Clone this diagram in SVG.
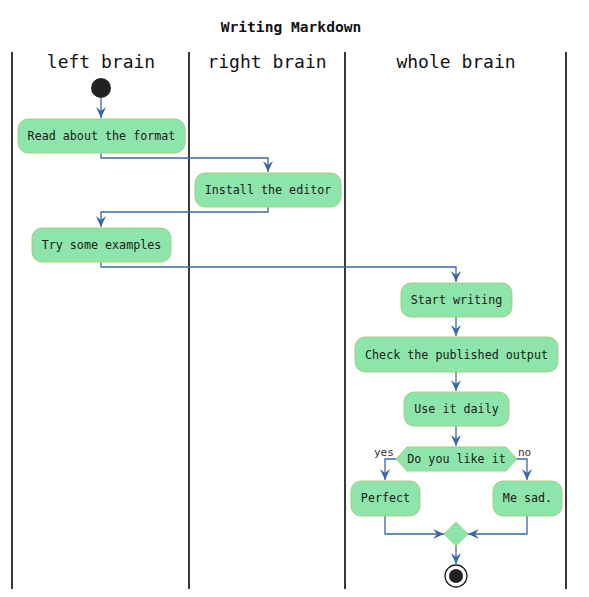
<svg xmlns="http://www.w3.org/2000/svg" width="589" height="597" viewBox="0 0 589 597">
<defs>
<style>
.lane{stroke:#383838;stroke-width:2;fill:none}
.act{fill:#8de5ab;stroke:#a6cf7e;stroke-width:1}
.t{font-family:"DejaVu Sans Mono","Liberation Mono",monospace;font-size:11.7px;fill:#1a1a1a;text-anchor:middle}
.h{font-family:"DejaVu Sans Mono","Liberation Mono",monospace;font-size:18px;fill:#111;text-anchor:middle}
.title{font-family:"DejaVu Sans Mono","Liberation Mono",monospace;font-size:14.6px;font-weight:bold;fill:#111;text-anchor:middle}
.lbl{font-family:"DejaVu Sans Mono","Liberation Mono",monospace;font-size:11px;fill:#333}
.c{stroke:#3a68a2;stroke-width:1.3;fill:none}
.ah{fill:#3a68a2;stroke:none}
</style>
<marker id="arr" viewBox="0 0 12 10" refX="11" refY="5" markerWidth="12" markerHeight="10" markerUnits="userSpaceOnUse" orient="auto">
<path class="ah" d="M0,0 L11,5 L0,10 L4,5 Z"/>
</marker>
</defs>
<rect width="589" height="597" fill="#ffffff"/>
<text class="title" x="291" y="32">Writing Markdown</text>
<g id="lanes">
<line class="lane" x1="12" y1="52" x2="12" y2="589"/>
<line class="lane" x1="189" y1="52" x2="189" y2="589"/>
<line class="lane" x1="345" y1="52" x2="345" y2="589"/>
<line class="lane" x1="566" y1="52" x2="566" y2="589"/>
<text class="h" x="101" y="68">left brain</text>
<text class="h" x="267" y="68">right brain</text>
<text class="h" x="456" y="68">whole brain</text>
</g>
<g id="connectors">
<path class="c" d="M101,98 V118" marker-end="url(#arr)"/>
<path class="c" d="M101,153 V158 H268 V172" marker-end="url(#arr)"/>
<path class="c" d="M268,207 V212 H101 V227" marker-end="url(#arr)"/>
<path class="c" d="M101,262 V267 H456 V282" marker-end="url(#arr)"/>
<path class="c" d="M456,317 V336" marker-end="url(#arr)"/>
<path class="c" d="M456,372 V391" marker-end="url(#arr)"/>
<path class="c" d="M456,426 V446" marker-end="url(#arr)"/>
<path class="c" d="M396,459 H385 V480" marker-end="url(#arr)"/>
<path class="c" d="M517,459 H527 V480" marker-end="url(#arr)"/>
<path class="c" d="M385,516 V534 H444" marker-end="url(#arr)"/>
<path class="c" d="M527,516 V534 H468" marker-end="url(#arr)"/>
<path class="c" d="M456,546 V564" marker-end="url(#arr)"/>
<text class="lbl" x="374" y="456">yes</text>
<text class="lbl" x="518" y="456">no</text>
</g>
<g id="start"><circle cx="101" cy="88" r="10" fill="#222"/></g>
<g id="read"><rect class="act" x="18" y="119" width="167" height="34" rx="10"/><text class="t" x="101.5" y="140">Read about the format</text></g>
<g id="install"><rect class="act" x="195" y="173" width="146" height="34" rx="10"/><text class="t" x="268" y="194">Install the editor</text></g>
<g id="try"><rect class="act" x="32" y="228" width="139" height="34" rx="10"/><text class="t" x="101.5" y="249">Try some examples</text></g>
<g id="startwriting"><rect class="act" x="401" y="283" width="111" height="34" rx="10"/><text class="t" x="456.5" y="304">Start writing</text></g>
<g id="check"><rect class="act" x="355" y="337" width="203" height="35" rx="10"/><text class="t" x="456.5" y="358.5">Check the published output</text></g>
<g id="daily"><rect class="act" x="404" y="392" width="105" height="34" rx="10"/><text class="t" x="456.5" y="413">Use it daily</text></g>
<g id="decision"><polygon class="act" points="396,459 407,447 506,447 517,459 506,471 407,471"/><text class="t" x="456.5" y="463">Do you like it</text></g>
<g id="perfect"><rect class="act" x="351" y="481" width="69" height="35" rx="10"/><text class="t" x="385.5" y="502">Perfect</text></g>
<g id="sad"><rect class="act" x="493" y="481" width="69" height="35" rx="10"/><text class="t" x="527.5" y="502">Me sad.</text></g>
<g id="merge"><polygon class="act" points="456,522 468,534 456,546 444,534"/></g>
<g id="end"><circle cx="456" cy="576" r="11" fill="#fff" stroke="#222" stroke-width="1.3"/><circle cx="456" cy="576" r="7" fill="#222"/></g>
</svg>
